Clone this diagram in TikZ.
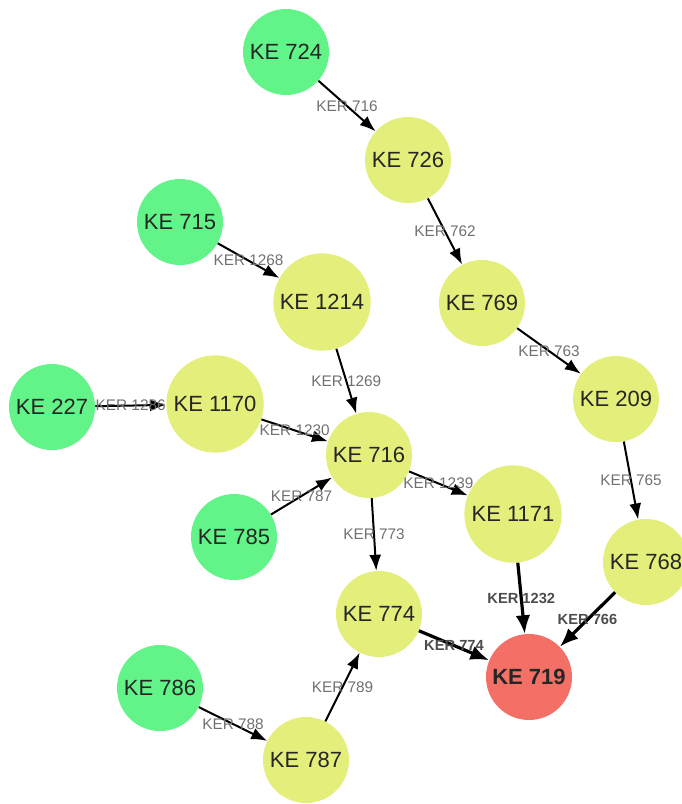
\documentclass[tikz,border=0pt]{standalone}
\usepackage{fontspec}
\setmainfont{Liberation Sans}
\usepackage{tikz}
\usetikzlibrary{arrows.meta}
\definecolor{keGreen}{RGB}{98,244,136}
\definecolor{keYellow}{RGB}{228,238,122}
\definecolor{keRed}{RGB}{244,112,102}
\definecolor{kerGray}{RGB}{112,112,112}

\begin{document}
\begin{tikzpicture}[
    x=0.75pt, y=-0.75pt,
    >={Latex[length=12pt,width=9pt]},
    ke/.style={circle, inner sep=0pt, minimum size=64.5pt, text=black!85,
        font=\fontsize{16.5pt}{19pt}\selectfont},
    big/.style={minimum size=73pt},
    mie/.style={ke, fill=keGreen},
    event/.style={ke, fill=keYellow},
    ao/.style={ke, fill=keRed, font=\fontsize{16.5pt}{19pt}\selectfont\bfseries},
    ker/.style={draw, ->, line width=1.5pt},
    lbl/.style={text=kerGray, inner sep=1pt, font=\fontsize{11.5pt}{13pt}\selectfont},
    kerAO/.style={draw, -{Latex[length=14pt,width=11pt]}, line width=2.4pt},
    lblAO/.style={lbl, text=black!70, font=\fontsize{11pt}{13pt}\selectfont\bfseries}
]
\useasboundingbox (0,0) rectangle (682,804);

% Nodes
\node[mie] (ke724) at (286,52) {KE 724};
\node[event] (ke726) at (408,160) {KE 726};
\node[mie] (ke715) at (180,222) {KE 715};
\node[event, big] (ke1214) at (322,302) {KE 1214};
\node[event] (ke769) at (482,303) {KE 769};
\node[mie] (ke227) at (52,407) {KE 227};
\node[event, big] (ke1170) at (215,404) {KE 1170};
\node[event] (ke209) at (616,399) {KE 209};
\node[event] (ke716) at (369,455) {KE 716};
\node[event, big] (ke1171) at (513,514) {KE 1171};
\node[mie] (ke785) at (234,537) {KE 785};
\node[event] (ke768) at (646,562) {KE 768};
\node[event] (ke774) at (379,614) {KE 774};
\node[ao] (ke719) at (529,677) {KE 719};
\node[mie] (ke786) at (160,688) {KE 786};
\node[event] (ke787) at (306,760) {KE 787};

% Connections
\draw[ker] (ke724) -- node[lbl] {KER 716} (ke726);
\draw[ker] (ke726) -- node[lbl] {KER 762} (ke769);
\draw[ker] (ke715) -- node[lbl] {KER 1268} (ke1214);
\draw[ker] (ke1214) -- node[lbl] {KER 1269} (ke716);
\draw[ker] (ke769) -- node[lbl] {KER 763} (ke209);
\draw[ker] (ke227) -- node[lbl] {KER 1286} (ke1170);
\draw[ker] (ke1170) -- node[lbl] {KER 1230} (ke716);
\draw[ker] (ke785) -- node[lbl] {KER 787} (ke716);
\draw[ker] (ke716) -- node[lbl] {KER 1239} (ke1171);
\draw[ker] (ke716) -- node[lbl] {KER 773} (ke774);
\draw[ker] (ke209) -- node[lbl] {KER 765} (ke768);
\draw[kerAO] (ke1171) -- node[lblAO] {KER 1232} (ke719);
\draw[kerAO] (ke768) -- node[lblAO] {KER 766} (ke719);
\draw[kerAO] (ke774) -- node[lblAO] {KER 774} (ke719);
\draw[ker] (ke786) -- node[lbl] {KER 788} (ke787);
\draw[ker] (ke787) -- node[lbl] {KER 789} (ke774);

\end{tikzpicture}
\end{document}
